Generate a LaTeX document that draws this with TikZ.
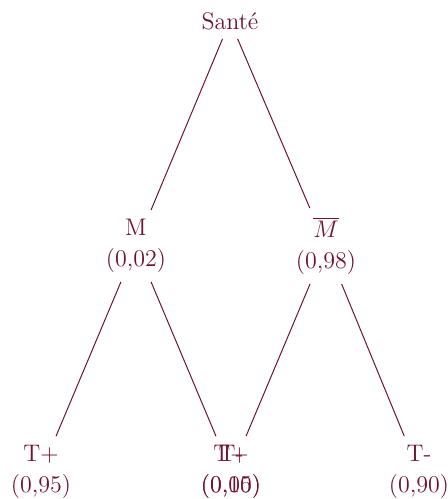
\documentclass[tikz,border=0pt]{standalone}
\usepackage{xcolor}
\definecolor{treecol}{RGB}{112,18,50}
\begin{document}
\begin{tikzpicture}[x=0.5pt,y=-0.5pt,
  lbl/.style={text=treecol, align=center, inner sep=4.4pt,
    font=\fontsize{12}{15.5}\selectfont},
  branch/.style={draw=treecol, line width=0.5pt}]
\useasboundingbox (0,0) rectangle (448,499);
% level 0
\node[lbl] (root) at (230,21) {Santé};
% level 1
\node[lbl] (m)  at (136,246) {M\\(0,02)};
\node[lbl] (mb) at (326,246) {$\overline{M}$\\(0,98)};
% level 2
\node[lbl] (mp) at (41,472)  {T+\\(0,95)};
\node[lbl] (mm) at (231,472) {T-\\(0,05)};
\node[lbl] (bp) at (231,472) {T+\\(0,10)};
\node[lbl] (bm) at (419,472) {T-\\(0,90)};
% branches
\draw[branch] (root) -- (m);
\draw[branch] (root) -- (mb);
\draw[branch] (m) -- (mp);
\draw[branch] (m) -- (mm);
\draw[branch] (mb) -- (bp);
\draw[branch] (mb) -- (bm);
\end{tikzpicture}
\end{document}
